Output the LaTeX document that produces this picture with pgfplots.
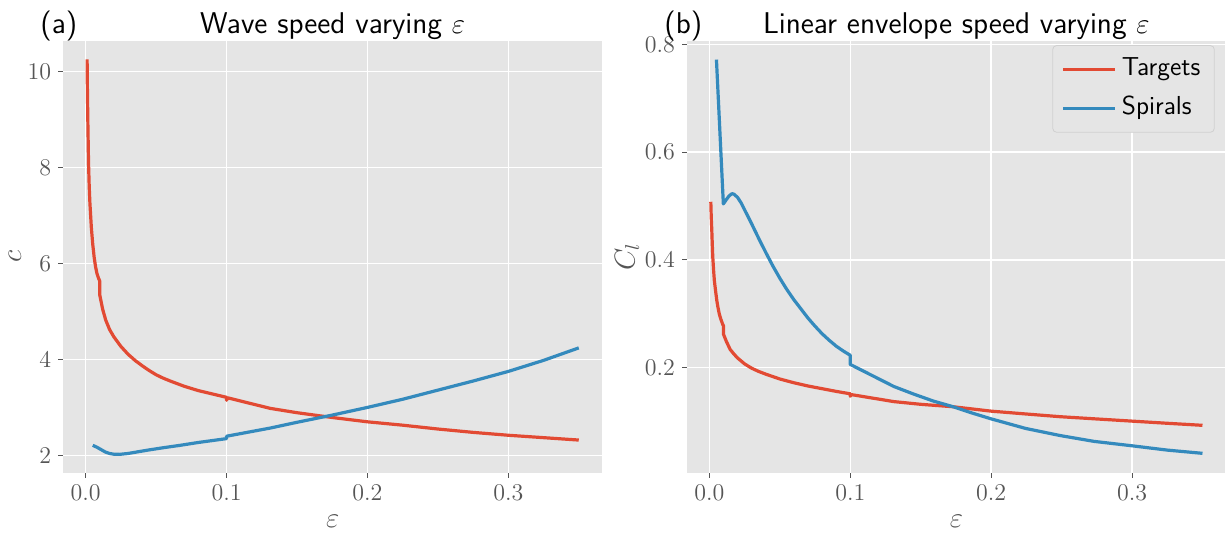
\documentclass[border=0pt]{standalone}
\usepackage{pgfplots}
\pgfplotsset{compat=1.18}

\definecolor{bg}{HTML}{E5E5E5}
\definecolor{tred}{HTML}{E24A33}
\definecolor{sblue}{HTML}{348ABD}
\definecolor{tgray}{HTML}{555555}
\definecolor{legedge}{HTML}{D0D0D0}

\pgfplotsset{
  gg/.style={
    scale only axis, width=269.35pt, height=216pt,
    xmin=-0.0159, xmax=0.3665,
    axis background/.style={fill=bg},
    axis line style={draw=none},
    grid=major, major grid style={white, line width=0.75pt},
    tick pos=left, tick align=outside, major tick length=2.5pt,
    tick style={tgray, line width=0.5pt},
    tick label style={text=tgray, font=\fontsize{12.5}{14}\selectfont},
    xtick={0,0.1,0.2,0.3},
    xticklabel style={/pgf/number format/.cd, fixed, fixed zerofill, precision=1},
    label style={text=tgray, font=\fontsize{14}{16}\selectfont},
    xlabel style={at={(axis description cs:0.5,0)}, anchor=base, yshift=-27.6pt},
    title style={font=\sffamily\fontsize{15}{18}\selectfont, at={(axis description cs:0.5,1)}, anchor=base, yshift=-2.3pt},
    every axis plot/.append style={line width=1.6pt, no markers, line join=round},
  }
}

\begin{document}
\begin{tikzpicture}
\useasboundingbox (0,0) rectangle (612.5pt,-268.5pt);

% (a) wave speed
\begin{axis}[gg, name=pa,
  at={(31.65pt,-20.35pt)}, anchor=north west,
  ymin=1.64, ymax=10.64,
  ytick={2,4,6,8,10},
  title={Wave speed varying $\varepsilon$},
  xlabel={$\varepsilon$}, ylabel={$c$},
  ylabel style={at={(axis description cs:0,0.5)}, anchor=center, yshift=24.2pt},
]
\addplot[tred] coordinates {
(0.001,10.25) (0.0012,9.65) (0.0015,9.0) (0.002,8.1) (0.0025,7.6) (0.003,7.25)
(0.004,6.75) (0.005,6.4) (0.006,6.13) (0.007,5.93) (0.008,5.79) (0.009,5.7)
(0.01,5.63) (0.01,5.34)
(0.012,5.05) (0.0142,4.82) (0.017,4.62) (0.02,4.47) (0.025,4.27) (0.03,4.11)
(0.035,3.98) (0.04,3.87) (0.045,3.77) (0.05,3.68) (0.055,3.61) (0.06,3.55)
(0.07,3.44) (0.08,3.35) (0.09,3.28) (0.1,3.21) (0.1,3.15) (0.1008,3.2)
(0.131,2.98) (0.15,2.89) (0.175,2.79) (0.2,2.70) (0.225,2.63) (0.25,2.55)
(0.275,2.48) (0.3,2.42) (0.325,2.37) (0.35,2.32)
};
\addplot[sblue] coordinates {
(0.005,2.21) (0.008,2.17) (0.011,2.12) (0.014,2.07) (0.017,2.04) (0.02,2.025)
(0.024,2.022) (0.03,2.04) (0.035,2.065) (0.044,2.11) (0.055,2.16) (0.067,2.21)
(0.08,2.27) (0.09,2.31) (0.1,2.35) (0.1,2.40) (0.131,2.57) (0.15,2.69)
(0.175,2.84) (0.2,3.0) (0.225,3.17) (0.25,3.36) (0.275,3.55) (0.3,3.75)
(0.325,3.98) (0.35,4.24)
};
\end{axis}
\node[anchor=base west, font=\sffamily\fontsize{15}{18}\selectfont, inner sep=0pt]
  at ([xshift=-11.65pt, yshift=3.7pt]pa.north west) {(a)};

% (b) linear envelope speed
\begin{axis}[gg, name=pb,
  at={(343.5pt,-20.35pt)}, anchor=north west,
  ymin=0.005, ymax=0.807,
  ytick={0.2,0.4,0.6,0.8},
  yticklabel style={/pgf/number format/.cd, fixed, fixed zerofill, precision=1},
  title={Linear envelope speed varying $\varepsilon$},
  xlabel={$\varepsilon$}, ylabel={$C_l$},
  ylabel style={at={(axis description cs:0,0.5)}, anchor=center, yshift=30pt},
  legend cell align=left,
  legend style={at={(axis description cs:1,1)}, anchor=north east,
    xshift=-5.5pt, yshift=-2.2pt, fill=bg, draw=legedge, rounded corners=2pt,
    font=\sffamily\fontsize{13}{15}\selectfont,
    inner xsep=4.5pt, inner ysep=3.5pt, row sep=3pt,
    nodes={inner sep=2.5pt, text height=9pt, text depth=2.7pt},
    /tikz/every even column/.append style={column sep=3.5pt}},
  legend image code/.code={\draw[#1] (0pt,0pt) -- (26pt,0pt);},
]
\addplot[tred] coordinates {
(0.001,0.508) (0.0013,0.48) (0.0017,0.455) (0.002,0.432) (0.0024,0.405)
(0.003,0.38) (0.0035,0.362) (0.0045,0.34) (0.0053,0.324) (0.006,0.313)
(0.007,0.300) (0.008,0.291) (0.0095,0.28) (0.01,0.278) (0.01,0.262)
(0.012,0.249) (0.0147,0.234) (0.0175,0.225) (0.02,0.218) (0.025,0.207)
(0.03,0.199) (0.035,0.193) (0.04,0.188) (0.05,0.179) (0.06,0.172)
(0.07,0.166) (0.08,0.161) (0.09,0.156) (0.1,0.1515) (0.1,0.147)
(0.1008,0.150) (0.131,0.137) (0.15,0.132) (0.173,0.1275) (0.2,0.1193)
(0.225,0.114) (0.249,0.109) (0.275,0.1048) (0.3,0.1008) (0.325,0.0968) (0.35,0.093)
};
\addlegendentry{Targets}
\addplot[sblue] coordinates {
(0.005,0.772) (0.0099,0.504) (0.012,0.512) (0.014,0.519) (0.016,0.523)
(0.0175,0.522) (0.02,0.516) (0.0225,0.506) (0.025,0.493) (0.03,0.467)
(0.035,0.440) (0.04,0.414) (0.045,0.389) (0.05,0.366) (0.055,0.345)
(0.06,0.326) (0.065,0.309) (0.07,0.292) (0.075,0.277) (0.08,0.263)
(0.085,0.251) (0.09,0.240) (0.095,0.231) (0.1,0.223) (0.1,0.206)
(0.131,0.165) (0.145,0.151) (0.159,0.138) (0.173,0.1275) (0.185,0.117)
(0.2,0.105) (0.2245,0.0872) (0.249,0.074) (0.273,0.0632) (0.3,0.055)
(0.325,0.047) (0.35,0.041)
};
\addlegendentry{Spirals}
\end{axis}
\node[anchor=base west, font=\sffamily\fontsize{15}{18}\selectfont, inner sep=0pt]
  at ([xshift=-11.5pt, yshift=3.7pt]pb.north west) {(b)};
\end{tikzpicture}
\end{document}
